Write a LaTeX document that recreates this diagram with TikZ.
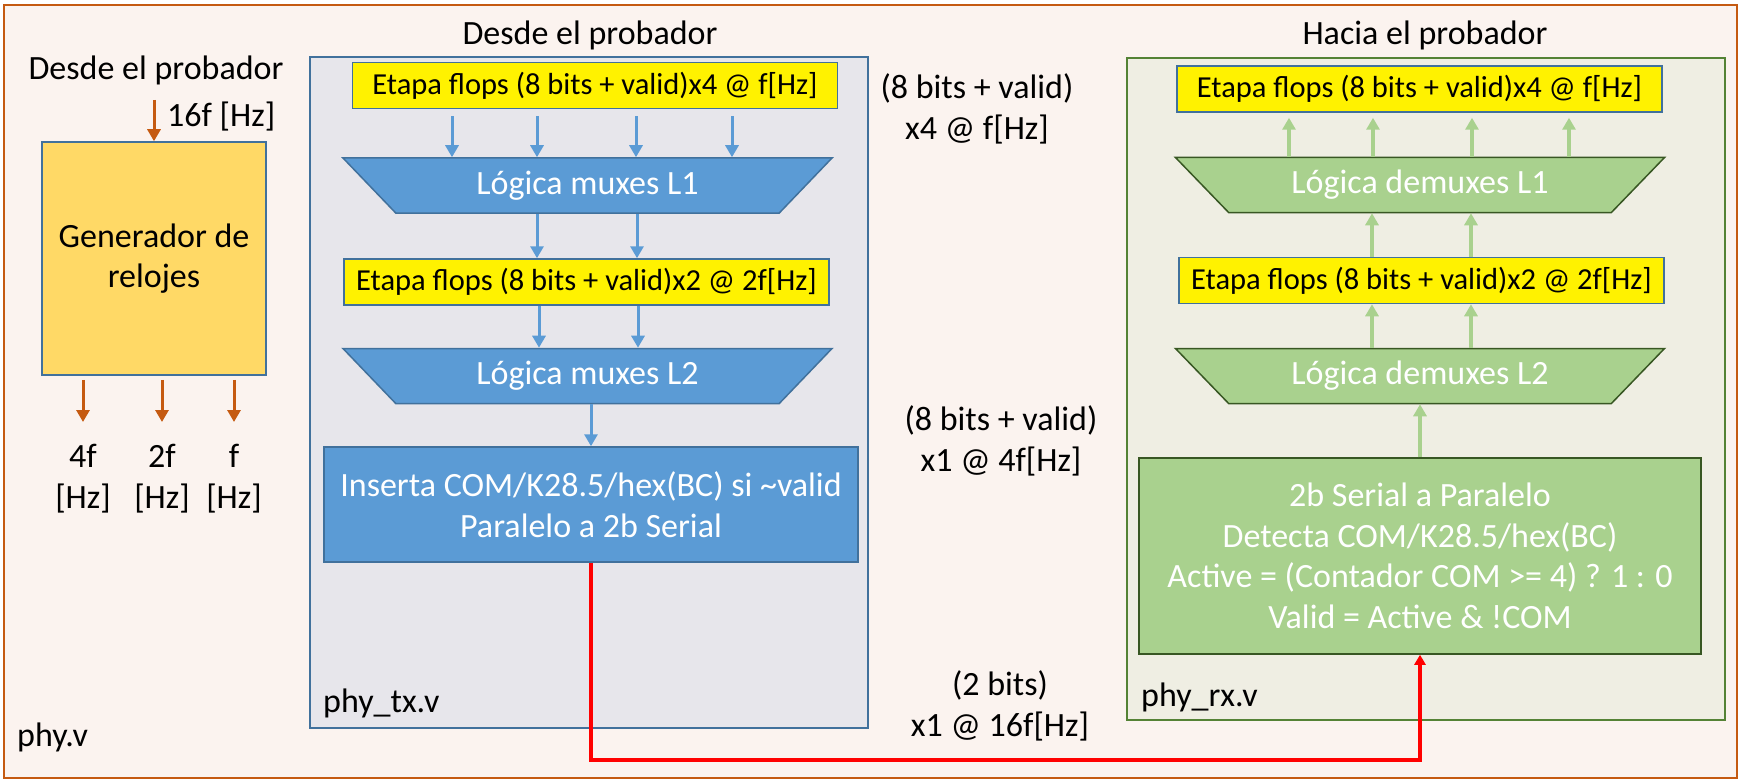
\documentclass[tikz,border=0pt]{standalone}
\usepackage{fontspec}
\setmainfont{Carlito}
\usetikzlibrary{shapes.geometric, arrows.meta}

\definecolor{frameorange}{HTML}{C55A11}
\definecolor{framebg}{HTML}{FBF3EF}
\definecolor{txbg}{HTML}{E7E6EB}
\definecolor{boxblue}{HTML}{5B9BD5}
\definecolor{lineblue}{HTML}{41719C}
\definecolor{clkyellow}{HTML}{FFD966}
\definecolor{rxbg}{HTML}{EFEEE3}
\definecolor{rxline}{HTML}{548235}
\definecolor{boxgreen}{HTML}{A9D18E}
\definecolor{linegreen}{HTML}{385723}

\tikzset{
  txt/.style={inner sep=0pt, font=\fontsize{34}{40.5}\selectfont},
  flops/.style={txt, draw=lineblue, line width=1.5pt, fill=yellow, minimum width=485pt, minimum height=46pt, font=\fontsize{30.5}{36}\selectfont},
  trap/.style={txt, trapezium, shape border rotate=180, trapezium angle=29, trapezium stretches body, minimum width=489pt, minimum height=55pt, line width=1.5pt, text=white},
  muxtx/.style={trap, draw=lineblue, fill=boxblue},
  muxrx/.style={trap, draw=linegreen, fill=boxgreen},
  clkarrow/.style={->, frameorange, line width=3pt},
  txarrow/.style={->, boxblue, line width=3pt},
  rxarrow/.style={->, boxgreen, line width=3.5pt},
  serial/.style={->, red, line width=3.5pt, >={Triangle[length=10pt, width=11pt]}},
}

\begin{document}
\begin{tikzpicture}[x=1pt, y=-1pt, >={Triangle[length=12pt, width=13pt]}]
  % Outer frame
  \useasboundingbox (0,0) rectangle (1741,781);
  \filldraw[draw=frameorange, fill=framebg, line width=2pt] (4,5) rectangle (1737,778);
  \node[txt, anchor=base west] (phy) at (17,746) {phy.v};

  % Clock generator
  \node[txt] (desde) at (156,70) {Desde el probador};
  \node[txt, draw=lineblue, fill=clkyellow, line width=1.5pt, minimum width=224pt, minimum height=233pt, align=center] (gen) at (154,258.5) {Generador de\\relojes};
  \coordinate (clkin) at (154,100);
  \draw[clkarrow] (clkin) -- (gen.north);
  \node[txt, anchor=west] (clkf) at (167,117) {16f [Hz]};
  \foreach \x/\f in {83/4f, 162/2f, 234/f} {
    \coordinate (out\f) at (\x,422);
    \draw[clkarrow, shorten <=4pt] (gen.south -| out\f) -- (out\f);
    \node[txt, align=center, anchor=north] (lab\f) at (\x,444) {\f\\{[Hz]}};
  }

  % Transmitter
  \node[txt] (txtitle) at (590,35) {Desde el probador};
  \node[draw=lineblue, fill=txbg, line width=1.5pt, minimum width=558pt, minimum height=671pt] (tx) at (589,392.5) {};
  \node[txt, anchor=base west] (txname) at (323,712) {phy\_tx.v};
  \node[flops] (stg1) at (595,85.5) {Etapa flops (8 bits + valid)x4 @ f[Hz]};
  \node[muxtx] (mux1) at (587.5,185.5) {Lógica muxes L1};
  \node[flops] (stg2) at (586.5,282) {Etapa flops (8 bits + valid)x2 @ 2f[Hz]};
  \node[muxtx] (mux2) at (587.5,376) {Lógica muxes L2};
  \node[txt, draw=lineblue, fill=boxblue, line width=1.5pt, text=white, minimum width=534pt, minimum height=115pt, align=center] (ins) at (591,504.5) {Inserta COM/K28.5/hex(BC) si \textasciitilde valid\\Paralelo a 2b Serial};

  \foreach \x in {452,537,636,732}
    \draw[txarrow, shorten <=7pt] (stg1.south -| \x,0) -- (mux1.north -| \x,0);
  \foreach \x in {537,637}
    \draw[txarrow] (mux1.south -| \x,0) -- (stg2.north -| \x,0);
  \foreach \x in {539,638}
    \draw[txarrow] (stg2.south -| \x,0) -- (mux2.north -| \x,0);
  \draw[txarrow] (mux2.south -| ins.north) -- (ins.north);

  % Bus widths
  \node[txt, align=center] (w4) at (977,109) {(8 bits + valid)\\x4 @ f[Hz]};
  \node[txt, align=center] (w1) at (1001,441) {(8 bits + valid)\\x1 @ 4f[Hz]};
  \node[txt, align=center] (w16) at (1000,706) {(2 bits)\\x1 @ 16f[Hz]};

  % Receiver
  \node[txt] (rxtitle) at (1425,35) {Hacia el probador};
  \node[draw=rxline, fill=rxbg, line width=1.5pt, minimum width=598pt, minimum height=662pt] (rx) at (1426,389) {};
  \node[txt, anchor=base west] (rxname) at (1141,706) {phy\_rx.v};
  \node[flops] (rstg1) at (1419.5,89) {Etapa flops (8 bits + valid)x4 @ f[Hz]};
  \node[muxrx] (dmux1) at (1420,185) {Lógica demuxes L1};
  \node[flops] (rstg2) at (1421.5,280.5) {Etapa flops (8 bits + valid)x2 @ 2f[Hz]};
  \node[muxrx] (dmux2) at (1420,376) {Lógica demuxes L2};
  \node[txt, draw=linegreen, fill=boxgreen, line width=1.5pt, text=white, minimum width=562pt, minimum height=196pt, align=center] (rxbox) at (1420,556) {2b Serial a Paralelo\\Detecta COM/K28.5/hex(BC)\\Active = (Contador COM >= 4) ? 1 : 0\\Valid = Active \& !COM};

  \foreach \x in {1289,1373,1472,1569}
    \draw[rxarrow, shorten >=5pt] (dmux1.north -| \x,0) -- (rstg1.south -| \x,0);
  \foreach \x in {1372,1471}
    \draw[rxarrow] (rstg2.north -| \x,0) -- (dmux1.south -| \x,0);
  \foreach \x in {1372,1471}
    \draw[rxarrow] (dmux2.north -| \x,0) -- (rstg2.south -| \x,0);
  \draw[rxarrow] (rxbox.north) -- (dmux2.south -| rxbox.north);

  % Serial link
  \coordinate (bus) at (0,760);
  \draw[serial] (ins.south) -- (ins.south |- bus) -| (rxbox.south);
\end{tikzpicture}
\end{document}
